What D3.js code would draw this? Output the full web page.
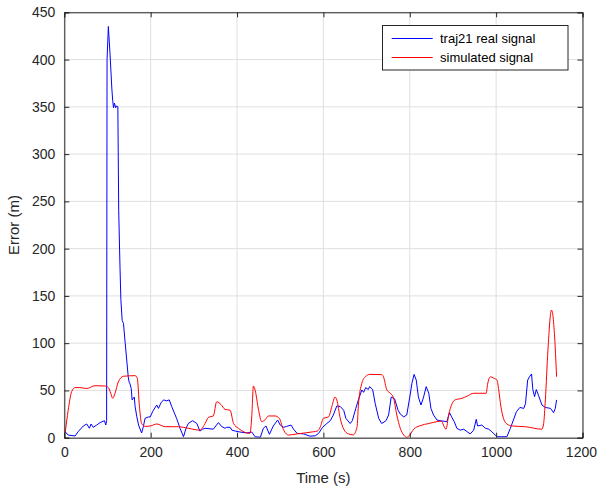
<!DOCTYPE html>
<html>
<head>
<meta charset="utf-8">
<script src="https://cdn.jsdelivr.net/npm/d3@7"></script>
<style>
  html, body { margin: 0; padding: 0; background: #fff; }
  svg { display: block; font-family: "Liberation Sans", Arial, Helvetica, sans-serif; }
</style>
</head>
<body>
<svg id="chart" width="597" height="489"></svg>
<script>
// ---- data ----
const realTime = [2,9,25,32,44,52,58,62,67,75,83,93,96,98,99,102,106,110,112,114,116,119,121,124,126,129,131,134,137,141,145,148,150,152,155,157,162,164,168,172,179,183,187,195,199,205,214,218,224,230,237,243,249,255,260,268,276,282,287,297,307,314,320,326,345,357,364,372,376,384,388,396,407,423,434,442,454,461,467,475,484,494,500,508,515,525,531,539,554,569,581,589,598,608,616,623,631,639,647,652,662,667,675,681,689,693,698,704,707,714,720,728,735,745,751,757,765,773,778,786,793,800,805,810,815,820,826,832,838,844,849,855,863,870,886,892,897,903,909,917,925,933,940,948,954,957,967,975,983,990,1002,1025,1033,1040,1047,1055,1064,1068,1073,1078,1082,1085,1089,1093,1098,1106,1114,1126,1133,1137,1140];
const realError = [6.3,2.8,1.8,6.3,12.4,14.5,10,14.5,11,13.4,16,18,13.4,18,400,435,405,370,357,349,354,349,351,350,240,180,146,124,121,100,80,64.5,59,57,52,40,43,33,22,13.4,5,11.6,20.5,22,22,28,34.6,31,37,40,39,40,32.7,26,20.5,10,1,10,15,18,15,7,9,10,9,16,12,10,11,11,8,7,6,5,6,1,0.5,10,12.4,3.6,12.4,18.7,13.4,11,12,13.4,9,4.6,4,1.6,2,4.6,11,15,18,24,33.5,33,29,20.5,15,18,31,40,50.5,48,53,51,54,51,36,20.5,15,18,24,43,41,29,25,22,24,43,57.5,67,61,43,34.6,43,54,47,31,24,18.7,18,17,26.5,22,17,10,8,9,6.3,4,8,19.5,12.4,13.4,10,9,6.3,1,1,10,18.7,27.5,32,31,36,61,65,67.4,51,43.4,51,45,34.6,32,31,26.5,31,40];

const simTime = [2,9,17,25,36,52,71,94,102,107.5,112,117.5,125,137,164,169,174,179,187,200,214,234,264,287,314,326,334,345,353,363,372,384,392,403,430,434,438,442,450,457,465,473,488,498,506,519,539,577,586,593,600,612,620,627,631,639,647,658,669,678,681,689,697,708,735,739,747,755,762,770,778,786,793,800,809,824,844,863,874,878,884,890,898,905,921,933,948,977,980,987,994,1002,1006,1011,1017,1025,1037,1068,1106,1110,1114,1120,1128,1131,1135,1140];
const simError = [5,29,48.7,53,53,52,55,54.7,53,47,41.7,47,59,65,65.6,63,33,15,12,12.5,14.5,11.6,11.6,10,8,15,21.6,23,38,35,30,29,15,10,4.6,22,54.7,50,29,17,19,23,23,20.5,10,2.8,4,6.3,7,11.6,20.5,22,33.7,43,40,20.5,9,4,3,11.6,33.7,57.5,64.5,67,66.7,64.5,50.5,47,42.7,24,10,2.8,0.5,2.8,9,12.7,15,17,17.5,13.4,9,24,36,40,41.7,44,47,47,56,64.5,63,61,50.5,33,20.5,14.5,12.4,11.6,9,15,40,93,135,131,110,64.5];

const xTicks = [0,200,400,600,800,1000,1200];
const yTicks = [0,50,100,150,200,250,300,350,400,450];
const seriesNames = ["traj21 real signal", "simulated signal"];
const seriesColors = ["#0000ff", "#ff0000"];

// ---- layout ----
const svg = d3.select("#chart");
const L = 64.3, R = 582.5, T = 12.3, B = 437.7;
const x = d3.scaleLinear().domain([0, 1200]).range([L, R]);
const y = d3.scaleLinear().domain([0, 450]).range([B, T]);
const axisColor = "#262626";

// grid
const g = svg.append("g");
g.selectAll("line.vg").data(xTicks).enter().append("line")
  .attr("x1", d => x(d)).attr("x2", d => x(d)).attr("y1", T).attr("y2", B)
  .attr("stroke", "#dfdfdf").attr("stroke-width", 1);
g.selectAll("line.hg").data(yTicks).enter().append("line")
  .attr("y1", d => y(d)).attr("y2", d => y(d)).attr("x1", L).attr("x2", R)
  .attr("stroke", "#dfdfdf").attr("stroke-width", 1);

// lines
const realData = realTime.map((t, i) => [t, realError[i]]);
const simData = simTime.map((t, i) => [t, simError[i]]);
svg.append("clipPath").attr("id", "clip").append("rect")
  .attr("x", L).attr("y", T).attr("width", R - L).attr("height", B - T);
const lineLin = d3.line().x(d => x(d[0])).y(d => y(d[1]));
const lineSmooth = d3.line().x(d => x(d[0])).y(d => y(d[1])).curve(d3.curveMonotoneX);
svg.append("path").datum(realData).attr("d", lineLin)
  .attr("fill", "none").attr("stroke", seriesColors[0]).attr("stroke-width", 1)
  .attr("clip-path", "url(#clip)");
svg.append("path").datum(simData).attr("d", lineSmooth)
  .attr("fill", "none").attr("stroke", seriesColors[1]).attr("stroke-width", 1)
  .attr("clip-path", "url(#clip)");

// axes (ticks inward, box on)
const tickLen = 5;
const fmt = d3.format("d");
const axB = svg.append("g").attr("transform", `translate(0,${B})`)
  .call(d3.axisBottom(x).tickValues(xTicks).tickSize(-tickLen).tickPadding(9).tickFormat(fmt));
const axT = svg.append("g").attr("transform", `translate(0,${T})`)
  .call(d3.axisTop(x).tickValues(xTicks).tickSize(-tickLen).tickFormat(""));
const axL = svg.append("g").attr("transform", `translate(${L},0)`)
  .call(d3.axisLeft(y).tickValues(yTicks).tickSize(-tickLen).tickPadding(9).tickFormat(fmt));
const axR = svg.append("g").attr("transform", `translate(${R},0)`)
  .call(d3.axisRight(y).tickValues(yTicks).tickSize(-tickLen).tickFormat(""));
[axB, axT, axL, axR].forEach(a => {
  a.select(".domain").attr("stroke", axisColor).attr("stroke-width", 1);
  a.selectAll(".tick line").attr("stroke", axisColor);
  a.selectAll(".tick text").attr("fill", axisColor)
    .style("font-size", "14px").style("font-family", "'Liberation Sans', Arial, sans-serif");
});
axB.selectAll(".tick text").attr("dy", "0.71em");
// keep the last x label inside the window
axB.selectAll(".tick text").filter(d => d === 1200).attr("text-anchor", "end").attr("x", 14);

// axis labels
svg.append("text").attr("x", (L + R) / 2).attr("y", 483)
  .attr("text-anchor", "middle").attr("fill", axisColor)
  .style("font-size", "15px").text("Time (s)");
svg.append("text").attr("transform", `translate(19,${(T + B) / 2}) rotate(-90)`)
  .attr("text-anchor", "middle").attr("fill", axisColor)
  .style("font-size", "15px").text("Error (m)");

// legend
const lg = svg.append("g");
lg.append("rect").attr("x", 382.5).attr("y", 25.5).attr("width", 185.5).attr("height", 44.5)
  .attr("fill", "#fff").attr("stroke", axisColor).attr("stroke-width", 1);
const legY = [38.5, 57.5];
seriesNames.forEach((name, i) => {
  lg.append("line").attr("x1", 391.7).attr("x2", 432.7).attr("y1", legY[i]).attr("y2", legY[i])
    .style("stroke", seriesColors[i]).attr("stroke-width", 1);
  lg.append("text").attr("x", 440).attr("y", legY[i]).attr("dy", "0.35em")
    .attr("fill", "#000").style("font-size", "13px").text(name);
});
</script>
</body>
</html>
